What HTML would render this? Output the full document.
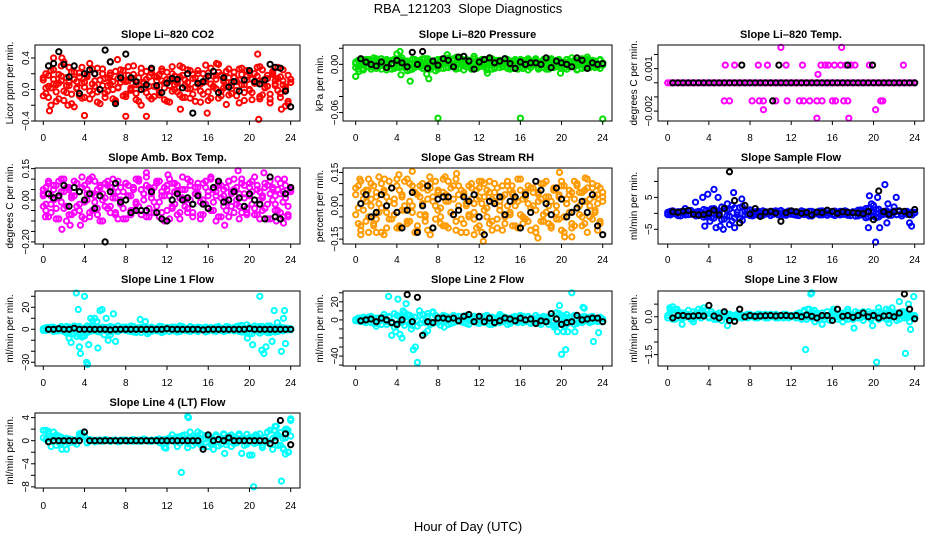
<!DOCTYPE html>
<html><head><meta charset="utf-8">
<style>
html,body{margin:0;padding:0;background:#fff;width:936px;height:540px;overflow:hidden}
svg{display:block;font-family:"Liberation Sans",Arial,sans-serif}
</style></head>
<body>
<svg id="chart" width="936" height="540" viewBox="0 0 936 540" xmlns="http://www.w3.org/2000/svg">
<text x="468" y="13" text-anchor="middle" font-size="13" xml:space="preserve">RBA_121203  Slope Diagnostics</text>
<text x="468" y="531" text-anchor="middle" font-size="13">Hour of Day (UTC)</text>
</svg>
<script>
const hours = [0,0.25,0.5,0.75,1,1.25,1.5,1.75,2,2.25,2.5,2.75,3,3.25,3.5,3.75,4,4.25,4.5,4.75,5,5.25,5.5,5.75,6,6.25,6.5,6.75,7,7.25,7.5,7.75,8,8.25,8.5,8.75,9,9.25,9.5,9.75,10,10.25,10.5,10.75,11,11.25,11.5,11.75,12,12.25,12.5,12.75,13,13.25,13.5,13.75,14,14.25,14.5,14.75,15,15.25,15.5,15.75,16,16.25,16.5,16.75,17,17.25,17.5,17.75,18,18.25,18.5,18.75,19,19.25,19.5,19.75,20,20.25,20.5,20.75,21,21.25,21.5,21.75,22,22.25,22.5,22.75,23,23.25,23.5,23.75,24];
const hoursB = [0.5,1,1.5,2,2.5,3,3.5,4,4.5,5,5.5,6,6.5,7,7.5,8,8.5,9,9.5,10,10.5,11,11.5,12,12.5,13,13.5,14,14.5,15,15.5,16,16.5,17,17.5,18,18.5,19,19.5,20,20.5,21,21.5,22,22.5,23,23.5,24];
const xTicks = [0,4,8,12,16,20,24];

const co2A = [0.12,-0.05,0.18,0.02,0.25,-0.15,0.08,0.30,-0.02,0.15,0.05,-0.18,0.22,0.10,-0.08,0.28,0.03,0.16,-0.12,0.07,0.20,-0.03,0.12,0.26,-0.10,0.05,0.18,0.00,-0.16,0.14,0.09,0.24,-0.06,0.11,0.02,0.19,-0.13,0.06,0.27,0.01,0.13,-0.09,0.21,0.04,0.16,-0.04,0.23,0.08,-0.15,0.12,0.29,0.00,0.10,-0.07,0.18,0.05,0.25,-0.11,0.14,0.03,0.20,-0.02,0.09,0.31,-0.14,0.07,0.17,0.01,0.22,-0.08,0.12,0.04,0.26,-0.05,0.15,0.10,-0.17,0.19,0.06,0.24,-0.01,0.13,0.08,0.28,-0.12,0.11,0.02,0.18,-0.06,0.21,0.07,0.14,-0.10,0.25,0.03,-0.18,0.09];
const co2B = [-0.08,0.20,0.04,-0.20,0.13,0.06,-0.12,0.17,0.35,-0.04,0.09,0.22,-0.22,0.02,0.16,0.08,-0.10,0.19,0.33,-0.06,0.11,0.27,-0.18,0.05,0.14,-0.02,0.21,0.10,-0.14,0.03,0.25,0.12,-0.09,0.18,0.00,0.30,-0.05,0.15,-0.20,0.08,0.23,0.04,-0.12,0.17,0.11,-0.07,0.26,0.02,0.13,-0.16,0.20,0.06,-0.03,0.16,0.28,-0.10,0.09,0.01,0.19,-0.15,0.24,0.07,-0.06,0.14,0.21,-0.11,0.03,0.18,0.32,-0.02,0.10,-0.19,0.15,0.05,0.22,-0.08,0.12,0.27,-0.04,0.17,0.00,-0.13,0.20,0.08,0.29,-0.07,0.13,0.04,-0.17,0.23,0.11,-0.01,0.16,0.06,-0.21,0.18,0.09];
const co2C = [0.15,0.02,-0.10,0.24,0.07,-0.03,0.19,0.11,-0.14,0.05,0.28,-0.06,0.13,0.01,0.21,-0.11,0.09,0.17,-0.02,0.26,0.04,-0.16,0.12,0.20,-0.05,0.15,0.07,-0.12,0.23,0.02,0.18,-0.08,0.10,0.29,-0.01,0.14,0.06,-0.15,0.21,0.09,-0.04,0.16,0.25,-0.09,0.03,0.19,0.11,-0.13,0.22,0.05,-0.02,0.17,0.08,0.30,-0.10,0.12,0.01,0.24,-0.06,0.15,0.07,-0.16,0.20,0.10,-0.03,0.27,0.04,0.13,-0.11,0.18,0.02,0.23,-0.07,0.09,0.16,-0.01,0.26,0.06,-0.14,0.12,0.21,-0.04,0.08,0.17,-0.09,0.25,0.03,0.14,-0.12,0.19,0.05,0.28,-0.05,0.11,0.00,-0.15,0.13];
const co2Extra = [[0.6,-0.27],[4,-0.33],[7.2,0.38],[8,-0.34],[10,-0.34],[20.8,0.45],[20.9,-0.38],[1,0.40],[1.8,0.40],[15.9,-0.30],[13.3,-0.25],[23.1,-0.25],[2.4,-0.2],[6.5,0.35],[16.8,0.33]];
const co2Black = [0.30,0.33,0.48,0.32,0.16,0.30,-0.05,0.20,0.25,0.20,0.00,0.50,0.35,-0.18,0.15,0.45,0.15,0.10,0.00,0.06,0.27,0.05,-0.04,0.08,0.14,0.13,0.02,0.20,-0.30,0.08,0.10,0.17,0.23,-0.04,0.15,0.03,0.10,-0.02,0.12,0.24,0.10,0.07,0.12,0.32,0.28,0.27,-0.02,-0.22];

const presA = [0.003,-0.002,0.006,-0.005,0.001,0.004,-0.006,0.002,0.007,-0.003,0.000,0.005,-0.007,0.003,-0.001,0.006,0.002,-0.004,0.008,-0.002,0.004,0.001,-0.006,0.005,0.003,-0.003,0.007,0.000,-0.005,0.004,0.002,-0.008,0.006,-0.001,0.003,0.005,-0.004,0.001,0.007,-0.006,0.002,0.004,-0.002,0.006,0.000,-0.005,0.003,0.005,-0.003,0.001,0.006,-0.007,0.004,0.002,-0.004,0.005,0.001,-0.002,0.007,-0.005,0.003,0.000,0.004,-0.006,0.006,0.002,-0.003,0.005,-0.001,0.003,0.007,-0.004,0.001,0.004,-0.006,0.006,0.002,-0.002,0.005,0.000,-0.005,0.003,0.006,-0.003,0.002,0.004,-0.007,0.005,0.001,-0.004,0.006,0.003,-0.002,0.004,0.000,-0.005,0.002];
const presB = [-0.004,0.005,0.001,-0.007,0.006,0.002,-0.003,0.008,-0.001,0.004,-0.006,0.003,0.006,-0.002,0.005,-0.005,0.001,0.007,-0.003,0.004,-0.008,0.002,0.006,-0.004,0.000,0.005,-0.002,0.007,0.003,-0.006,0.004,0.001,-0.003,0.006,-0.005,0.002,0.008,-0.001,0.004,-0.004,0.006,0.000,-0.007,0.003,0.005,-0.002,0.007,-0.005,0.001,0.004,-0.003,0.006,0.002,-0.006,0.005,0.000,-0.004,0.003,0.007,-0.002,0.004,-0.005,0.006,0.001,-0.003,0.005,0.002,-0.007,0.004,-0.001,0.006,0.003,-0.004,0.005,0.000,-0.006,0.007,0.002,-0.003,0.004,0.001,-0.005,0.006,-0.002,0.003,0.005,-0.006,0.002,0.007,-0.001,0.004,-0.004,0.005,0.001,-0.003,0.006,0.002];
const presC = [0.001,-0.006,0.004,0.002,-0.003,0.006,-0.001,0.005,-0.005,0.003,0.007,-0.002,0.000,0.004,-0.006,0.006,-0.003,0.002,0.005,-0.004,0.003,-0.007,0.001,0.006,-0.002,0.004,-0.005,0.002,0.007,-0.003,0.000,0.005,-0.006,0.003,0.001,-0.004,0.006,-0.002,0.004,0.000,-0.005,0.007,0.002,-0.003,0.005,-0.006,0.001,0.004,-0.002,0.006,0.000,-0.004,0.003,0.007,-0.005,0.002,0.005,-0.003,0.001,0.006,-0.006,0.004,0.000,-0.002,0.005,-0.005,0.003,0.007,-0.004,0.001,0.004,-0.006,0.002,0.006,-0.003,0.000,0.005,-0.004,0.003,0.006,-0.002,0.001,-0.006,0.004,0.002,-0.003,0.005,0.000,-0.005,0.006,0.003,-0.002,0.004,-0.004,0.001,0.005,-0.001];
const presExtra = [[0,-0.015],[0.3,-0.009],[4.3,0.016],[4.4,-0.013],[5.3,-0.021],[6.9,-0.012],[7.1,-0.018],[8,-0.067],[16,-0.067],[24,-0.068],[8.9,0.012],[11.5,0.010],[12.8,-0.011],[19.9,-0.011],[13,0.008],[4,0.013],[9.8,0.009],[21,0.008],[22.5,0.009]];
const presBlack = [0.007,0.003,0.000,-0.002,0.003,-0.004,0.001,0.005,0.002,-0.003,0.015,0.000,0.016,-0.005,0.004,-0.001,0.007,0.005,-0.003,0.009,0.010,0.004,-0.006,0.003,0.006,0.008,0.002,0.004,0.007,0.001,-0.005,0.003,0.000,0.002,0.002,0.000,0.008,-0.004,0.004,0.002,0.000,-0.003,0.008,0.005,-0.005,0.002,0.000,0.001];

const tempA = [0,0,0,0,0,0,0,0,0,0,0,0,0,0,0,0,0,0,0,0,0,0,0,0,0,0,0,0,0,0,0,0,0,0,0,0,0,0,0,0,0,0,0,0,0,0,0,0,0,0,0,0,0,0,0,0,0,0,0,0,0,0,0,0,0,0,0,0,0,0,0,0,0,0,0,0,0,0,0,0,0,0,0,0,0,0,0,0,0,0,0,0,0,0,0,0,0];
const tempExtra = [[5.6,0.00125],[6.5,0.00125],[8.8,0.00125],[9.7,0.00125],[11.5,0.00125],[13.1,0.00125],[14.9,0.00125],[15.3,0.00125],[15.6,0.00125],[16.2,0.00125],[16.8,0.00125],[17.3,0.00125],[17.8,0.00125],[18.2,0.00125],[19.6,0.00125],[22.9,0.00125],[11,0.0025],[16.9,0.0025],[14.6,0.0006],[5.5,-0.00128],[6,-0.00128],[8.2,-0.00128],[8.9,-0.00128],[9.3,-0.00128],[10.5,-0.00128],[11.6,-0.00128],[12.8,-0.00128],[13.2,-0.00128],[13.8,-0.00128],[14.5,-0.00128],[15,-0.00128],[16,-0.00128],[16.3,-0.00128],[17.1,-0.00128],[17.5,-0.00128],[20.7,-0.00128],[20.9,-0.00128],[9.3,-0.0019],[20.2,-0.0019],[14.5,-0.0025],[17.6,-0.0025]];
const tempBlack = [0,0,0,0,0,0,0,0,0,0,0,0,0,0,0,0,0,0,0,0,0,0,0,0,0,0,0,0,0,0,0,0,0,0,0,0,0,0,0,0,0,0,0,0,0,0,0,0];
const tempBlackExtra = [[7.2,0.00125],[10.8,0.00125],[17.5,0.00125],[19.9,0.00125],[10.2,-0.00128]];

const ambA = [0.03,-0.05,0.08,-0.02,0.05,-0.09,0.01,0.10,-0.04,0.06,-0.07,0.02,0.09,-0.03,0.04,-0.08,0.07,0.00,-0.06,0.11,-0.01,0.05,-0.10,0.03,0.08,-0.04,0.06,0.01,-0.07,0.09,-0.02,0.04,-0.09,0.07,0.02,-0.05,0.10,-0.03,0.05,0.00,-0.08,0.06,0.03,-0.06,0.09,-0.01,0.04,-0.10,0.07,0.02,-0.04,0.08,-0.07,0.01,0.05,-0.03,0.10,0.00,-0.06,0.06,0.03,-0.09,0.08,-0.02,0.04,0.11,-0.05,0.02,0.07,-0.08,0.05,-0.01,0.09,0.03,-0.06,0.06,-0.03,0.10,0.01,-0.07,0.08,0.04,-0.04,0.07,-0.09,0.02,0.06,-0.02,0.09,0.00,-0.05,0.05,0.03,-0.08,0.07,-0.03,0.04];
const ambB = [-0.03,0.06,-0.08,0.02,0.07,-0.04,0.09,-0.01,0.04,-0.10,0.05,0.01,-0.06,0.08,-0.02,0.06,-0.09,0.03,0.10,-0.05,0.02,-0.07,0.07,0.00,-0.03,0.09,-0.06,0.04,0.01,-0.09,0.06,-0.04,0.08,0.02,-0.07,0.05,-0.01,0.10,-0.05,0.03,0.07,-0.08,0.01,0.06,-0.03,0.09,-0.06,0.02,0.05,-0.09,0.08,-0.02,0.04,-0.06,0.11,0.00,-0.04,0.07,-0.08,0.03,0.06,-0.01,-0.07,0.09,0.02,-0.05,0.05,-0.10,0.08,0.01,-0.03,0.06,-0.08,0.04,0.10,-0.02,0.03,-0.06,0.07,-0.04,0.02,0.09,-0.07,0.05,0.00,-0.05,0.08,-0.09,0.03,0.06,-0.02,0.10,-0.06,0.04,0.01,-0.08,0.05];
const ambC = [0.05,-0.02,0.09,-0.06,0.00,0.07,-0.09,0.04,0.10,-0.03,0.06,-0.07,0.02,0.08,-0.05,0.11,-0.01,0.05,-0.08,0.03,0.09,-0.04,0.06,-0.10,0.01,0.07,-0.03,0.10,-0.06,0.04,0.00,-0.09,0.08,0.02,-0.05,0.06,-0.02,0.09,-0.07,0.03,0.11,-0.04,0.05,-0.01,0.08,-0.08,0.02,0.06,-0.05,0.10,-0.03,0.04,0.07,-0.09,0.01,0.05,-0.06,0.09,-0.02,0.03,0.08,-0.07,0.00,0.06,-0.04,0.10,-0.01,0.04,-0.08,0.07,0.02,-0.05,0.09,-0.03,0.05,0.00,-0.09,0.08,0.03,-0.06,0.06,-0.02,0.11,-0.07,0.04,0.01,-0.04,0.07,-0.09,0.05,0.02,-0.05,0.08,-0.01,0.03,-0.07,0.06];
const ambExtra = [[1.8,-0.14],[2.6,-0.12],[3.6,-0.12],[14.9,-0.225],[10,0.13],[12.1,0.12],[18.9,0.14],[21.4,0.13],[23.4,0.10],[4.4,0.09],[0,0.02],[0.2,-0.08],[6.6,0.06],[17.6,-0.12],[23.3,-0.11],[22.6,-0.10]];
const ambBlack = [0.03,0.01,0.02,0.07,-0.03,0.06,0.04,0.00,0.03,-0.04,0.02,-0.20,0.04,0.08,-0.01,0.00,-0.06,-0.05,-0.05,-0.05,0.04,-0.06,-0.09,-0.10,0.00,0.03,0.00,0.01,-0.02,0.02,-0.02,-0.04,0.06,0.09,-0.01,0.00,0.04,0.01,-0.03,0.03,0.00,-0.02,-0.09,0.11,-0.08,-0.09,0.03,0.06];

const rhA = [0.05,-0.08,0.11,-0.02,0.07,-0.12,0.03,0.09,-0.06,0.13,-0.01,0.06,-0.10,0.02,0.08,-0.04,0.12,-0.09,0.04,0.00,-0.07,0.10,-0.03,0.06,-0.11,0.09,0.01,-0.05,0.07,-0.13,0.04,0.11,-0.02,-0.08,0.06,0.02,-0.10,0.08,-0.04,0.12,0.00,-0.06,0.05,-0.12,0.09,0.03,-0.03,0.07,-0.09,0.01,0.10,-0.05,0.06,-0.11,0.02,0.08,-0.02,0.04,-0.08,0.11,-0.04,0.05,0.00,-0.10,0.07,0.03,-0.06,0.09,-0.01,0.06,-0.12,0.02,0.10,-0.07,0.04,0.00,-0.09,0.08,-0.03,0.05,0.11,-0.05,0.01,0.07,-0.10,0.03,0.09,-0.04,0.06,-0.08,0.12,0.00,-0.06,0.04,-0.11,0.08,0.02];
const rhB = [-0.04,0.09,-0.11,0.03,-0.07,0.12,0.00,-0.09,0.06,-0.03,0.10,-0.13,0.04,-0.06,0.08,0.01,-0.10,0.07,-0.02,0.11,-0.08,0.02,0.09,-0.12,0.05,-0.04,0.10,-0.07,0.03,0.08,-0.10,0.00,0.06,-0.05,0.12,-0.09,0.02,-0.03,0.09,-0.11,0.05,0.07,-0.08,0.01,-0.04,0.10,-0.06,0.03,0.08,-0.12,0.04,-0.01,0.11,-0.07,0.06,-0.10,0.02,0.09,-0.05,0.00,0.07,-0.09,0.03,0.12,-0.04,-0.08,0.06,0.01,-0.11,0.08,-0.02,0.05,-0.07,0.10,-0.03,0.04,-0.10,0.07,0.00,-0.06,0.09,-0.12,0.03,0.05,-0.08,0.11,-0.01,0.06,-0.09,0.02,0.08,-0.05,0.10,-0.03,0.01,-0.07,0.06];
const rhC = [0.08,-0.01,-0.09,0.06,0.02,-0.05,0.10,-0.08,0.04,0.01,-0.12,0.07,-0.03,0.11,-0.06,0.03,0.09,-0.10,0.05,-0.02,0.12,-0.07,0.00,0.06,-0.09,0.04,0.08,-0.04,-0.11,0.10,0.02,-0.06,0.07,-0.01,-0.09,0.05,0.11,-0.03,0.03,-0.07,0.09,-0.12,0.06,0.00,-0.05,0.08,0.01,-0.10,0.04,0.11,-0.02,0.07,-0.08,0.03,0.10,-0.06,0.00,-0.11,0.05,0.09,-0.03,0.06,-0.09,0.02,0.12,-0.05,0.04,-0.07,0.08,0.00,-0.10,0.06,0.03,-0.04,0.11,-0.08,0.02,0.07,-0.06,0.04,-0.11,0.09,0.01,-0.03,0.06,-0.09,0.10,0.00,-0.05,0.07,-0.12,0.03,0.08,-0.02,0.05,-0.08,0.04];
const rhExtra = [[0.4,0.12],[0.5,-0.13],[2,-0.12],[2.8,0.12],[4.2,0.14],[5.5,0.155],[7.2,0.13],[8.7,0.13],[9.8,0.145],[12.4,-0.16],[11.5,-0.13],[17.7,-0.145],[19.8,0.15],[20.3,-0.14],[21,-0.14],[22.3,0.125],[12,0.11],[15.2,0.09],[1.2,0.07],[23.5,0.09]];
const rhBlack = [0.01,0.05,-0.05,-0.03,0.05,0.00,0.08,-0.03,-0.10,-0.02,0.06,-0.12,0.00,0.09,-0.10,0.03,0.04,0.04,-0.04,-0.02,0.04,0.02,0.05,-0.05,-0.13,0.02,0.01,0.04,-0.04,0.02,0.04,-0.10,0.05,-0.03,0.11,0.07,0.01,-0.04,0.08,0.03,-0.05,-0.03,-0.01,0.02,-0.03,0.05,-0.09,-0.13];

const sfA = [0.3,-0.5,0.8,-0.2,0.5,-0.8,0.1,0.6,-0.4,0.9,-0.1,0.4,-0.7,0.2,1.2,-1.0,0.7,-1.3,1.5,-0.6,0.3,2.0,-1.8,1.0,-0.9,2.5,-1.5,0.4,1.8,-2.2,0.6,-0.3,1.1,-0.8,0.5,0.0,-0.6,0.8,-0.2,0.4,-0.7,0.6,0.1,-0.4,0.9,-0.5,0.3,0.7,-0.3,0.5,-0.6,0.2,0.8,-0.4,0.1,0.6,-0.8,0.3,-0.1,0.7,-0.5,0.4,0.9,-0.2,0.5,-0.7,0.2,0.6,-0.3,0.8,-0.6,0.1,0.4,-0.9,1.0,-0.4,0.7,-1.4,1.6,-0.8,0.3,1.2,-1.1,0.5,-0.3,0.8,-0.6,0.2,0.7,-0.4,0.5,-0.8,0.3,0.6,-0.2,0.4,0.1];
const sfB = [-0.4,0.6,-0.1,0.3,-0.7,0.5,0.0,-0.5,0.8,-0.3,0.2,-0.8,0.6,-0.2,-1.2,1.0,-0.6,1.4,-1.5,0.8,-0.3,-2.0,1.6,-0.8,1.3,-2.4,1.7,-0.5,-1.6,2.1,-0.4,0.9,-0.7,0.3,-0.5,0.7,0.2,-0.6,0.5,-0.1,0.6,-0.3,0.8,-0.5,0.1,0.4,-0.6,-0.2,0.7,-0.4,0.3,-0.7,0.0,0.5,-0.3,-0.8,0.6,-0.2,0.4,-0.5,0.8,-0.1,-0.6,0.3,-0.4,0.7,-0.2,-0.5,0.6,-0.3,0.4,-0.7,0.5,0.2,-0.8,1.1,-0.6,1.5,-1.2,0.7,-0.9,-1.4,1.3,-0.5,0.6,-0.2,0.4,-0.6,0.3,-0.4,0.7,-0.1,0.5,-0.3,0.2,-0.5,0.3];
const sfExtra = [[2.7,3.5],[3.4,5.0],[3.6,-4.0],[3.9,6.0],[4.5,7.5],[4.7,-4.5],[4.9,5.0],[5.1,-4.0],[5.4,-5.0],[5.8,3.0],[6.4,6.5],[6.5,-4.5],[7.2,4.5],[6.0,-3.5],[19.5,-4.5],[19.6,5.5],[19.8,3.0],[20.2,-9.0],[20.4,5.0],[20.6,-4.5],[21.1,9.0],[21.3,-3.0],[21.4,3.0],[22.2,5.0],[23.7,-4.0],[23.5,-3],[20,2.5],[4.1,-2.5],[1.7,1.5],[22,2]];
const sfBlack = [0.5,0.3,0.7,0.9,-0.3,-0.5,-0.4,0.0,1.0,-0.5,1.5,13.0,4.0,-3.0,2.5,-0.2,1.5,-1.0,0.4,0.6,0.1,-2.5,0.2,0.8,0.5,0.0,0.3,-0.5,0.4,0.2,1.0,0.6,0.0,0.5,0.3,0.2,0.1,-0.1,0.6,-2.0,7.0,0.5,-0.3,0.5,0.8,0.6,-0.4,1.2];

const l1A = [0.5,-1.0,1.5,-0.5,2.0,-1.5,0.0,1.0,-2.0,2.5,-3.0,1.0,-4.0,2.0,-5.0,0.5,-6.0,3.0,-2.0,1.5,-1.0,2.0,-2.5,0.0,1.5,-1.5,2.5,-1.0,0.5,-2.0,1.0,-0.5,2.0,-1.5,3.0,-2.5,0.5,1.5,-3.0,2.0,-1.0,0.5,-2.0,1.0,-1.5,2.5,-3.0,0.0,1.5,-2.0,-1.0,2.0,-2.5,3.0,-0.5,1.0,-1.5,2.5,-1.0,0.5,-2.0,1.5,-0.5,2.0,-1.5,0.0,1.0,-2.0,2.5,-1.0,0.5,-1.5,2.0,-0.5,1.5,-1.0,3.0,-2.5,1.0,-3.0,2.0,-4.0,0.5,-1.5,2.5,-2.0,1.0,-3.0,3.0,-1.0,0.5,-2.0,2.0,-1.5,1.0,-0.5,0.5];
const l1B = [-1.0,1.5,-0.5,2.0,-2.0,1.0,-1.5,2.5,-0.5,-3.5,2.0,-4.5,3.0,-6.5,2.5,-7.0,1.0,-3.0,2.5,-1.5,1.0,-2.0,0.5,2.0,-1.0,1.5,-2.5,2.0,-1.5,3.0,-0.5,2.0,-1.0,1.0,-2.0,2.5,-3.0,-1.0,2.0,-0.5,1.5,-2.5,2.0,-0.5,1.0,-1.5,2.5,-2.0,0.5,1.5,2.0,-1.5,1.0,-2.0,2.5,-1.0,0.5,-2.0,1.5,-1.0,2.0,-0.5,1.0,-2.5,0.5,1.5,-1.5,2.0,-0.5,1.0,-2.0,2.5,-1.0,0.0,-1.5,2.5,-2.0,3.5,-2.5,4.0,-4.0,1.0,-1.0,2.0,-3.5,2.5,-1.0,3.0,-2.0,1.5,-2.5,2.0,-1.0,1.5,-0.5,1.0,-0.5];
const l1Extra = [[2.5,-8],[2.7,-12],[3.2,33],[3.4,18],[3.5,-16],[3.6,-22],[3.8,-6],[4.0,30],[4.2,-30],[4.3,-32],[4.4,-14],[4.6,10],[4.8,8],[5.0,10],[5.2,7],[5.3,-17],[5.5,17],[5.7,18],[5.9,-5],[6.1,10],[6.3,-10],[6.5,-5],[6.8,14],[7.0,-11],[9.4,9],[9.9,7],[10.1,-4],[19.8,-8],[20.3,-14],[21.0,30],[21.2,-19],[21.4,-22],[21.6,-16],[22.0,-3],[22.2,-11],[22.4,17],[22.7,6],[23.1,-20],[23.3,10],[23.4,17],[23.5,-13],[20.5,3]];
const l1Black = [0,0,0.5,0,0,1,0,0,0,0,0,0,-0.5,0,0,0,0,0,0,0,0,0,0,0.5,0,0,0,0,0,0,-0.5,0,0,0,0,0,0,0,0,0.5,0,0,0,0,0,0,0,0];

const l2A = [0.5,-1,2,-2,1,3,-3,1,-4,2,0,3,-5,4,-2,-8,5,-3,2,-6,6,-4,1,3,-7,5,0,-2,4,-5,8,-3,2,-6,5,-1,3,-4,2,-2,4,1,-3,5,-5,2,-1,3,-4,1,4,-2,3,-5,2,0,-3,4,-1,2,-4,3,1,-2,5,-3,0,4,-4,2,-1,3,-5,4,0,-2,3,-6,8,-4,5,-7,6,-3,2,-5,4,-2,3,-1,2,-3,4,0,-2,3,1];
const l2B = [-1,2,-2,3,-3,1,4,-4,2,-2,-5,6,-2,3,-4,7,-6,4,-3,8,-2,5,-6,3,-1,-4,6,-3,7,-2,-4,5,-3,3,-2,4,-5,1,-3,3,-1,-2,4,-4,3,-1,4,-3,2,-2,-3,5,-1,3,-4,2,4,-2,3,-5,1,-2,4,-3,-1,4,-2,3,-3,-2,5,-4,2,-1,3,-5,4,-2,-6,7,-3,4,-5,3,-2,5,-4,2,-3,4,-1,3,-2,1,-1,2,-2];
const l2Extra = [[2,-7],[2.5,-5],[3.2,26],[3.5,-17],[3.9,-13],[4.1,23],[4.3,-16],[4.5,-20],[4.6,10],[4.9,18],[5.1,5],[5.4,-10],[5.6,-33],[5.8,-30],[6.0,-47],[6.2,10],[6.7,-15],[7.0,-12],[7.5,9],[8.6,-8],[19.3,-8],[19.6,-13],[19.8,16],[20.0,-38],[20.2,-13],[20.4,-33],[20.6,-13],[21.0,30],[21.3,-13],[22.2,13],[22.1,14],[23.1,-24],[23.6,-14],[9.5,5],[13,-5],[14,6]];
const l2Black = [-1,0,1,-2,2,0,-3,-5,0,28,-2,25,-17,-2,-3,2,2,1,2,-1,4,6,-2,4,-2,2,-3,-1,2,1,-1,2,0,1,-4,-1,-2,7,1,-5,-3,-2,5,0,1,2,2,-2];

const l3A = [0.05,0.2,-0.1,0.3,0.1,-0.05,0.15,0.0,0.1,-0.1,0.2,0.05,0.3,-0.05,0.35,0.1,0.0,0.2,-0.1,0.1,0.05,-0.15,0.15,0.0,0.1,-0.05,0.05,0.1,0.0,-0.05,0.05,0.1,0.0,0.05,-0.05,0.1,0.0,0.05,0.1,-0.05,0.05,0.0,0.1,-0.05,0.05,0.1,0.0,-0.05,0.05,0.0,0.1,0.05,-0.1,0.2,0.0,0.3,-0.05,0.25,0.1,-0.1,0.15,0.0,0.05,-0.15,0.2,0.0,0.1,-0.05,0.15,0.05,-0.1,0.1,0.0,0.2,-0.05,0.1,-0.15,0.05,0.2,-0.05,0.1,0.0,-0.1,0.15,0.05,0.3,-0.1,0.1,0.0,0.15,-0.1,0.2,0.05,-0.05,0.1,0.0,0.05];
const l3B = [-0.05,0.3,0.1,-0.1,0.2,0.15,-0.05,0.1,0.25,0.05,-0.1,0.15,0.0,0.2,0.1,0.25,-0.05,0.1,0.05,-0.1,0.15,0.05,0.0,0.1,-0.05,0.05,0.0,-0.05,0.1,0.05,0.0,-0.05,0.1,0.0,0.05,-0.05,0.1,0.0,-0.05,0.05,0.1,0.0,-0.05,0.05,0.0,-0.05,0.1,0.05,0.0,0.05,-0.05,0.15,0.05,0.25,-0.1,0.1,0.2,-0.05,0.15,0.05,0.0,-0.1,0.2,0.05,0.0,0.15,-0.1,0.05,0.1,-0.05,0.2,0.0,-0.1,0.05,0.15,-0.05,0.2,0.0,0.1,-0.1,0.15,0.05,0.2,-0.05,0.1,-0.1,0.25,0.0,0.1,-0.15,0.05,0.15,-0.05,0.1,0.0,0.05,-0.05];
const l3Extra = [[0.2,0.35],[0.5,0.4],[0.9,0.3],[1.4,-0.3],[2.5,-0.2],[3.3,0.25],[5.8,-0.35],[13.4,-1.3],[13.6,0.3],[13.9,0.9],[14.0,0.95],[14.3,-0.2],[15.0,-0.3],[16.1,0.3],[17.0,-0.2],[18.1,-0.45],[19.9,-0.35],[20.3,-1.8],[20.5,0.35],[21.5,-0.25],[21.8,0.35],[22.5,0.6],[22.9,0.2],[23.1,-1.45],[23.4,0.5],[23.5,-0.2],[23.6,-0.5],[23.9,0.8],[17.5,0.3],[12.7,0.05]];
const l3Black = [-0.05,0.05,0.05,0.02,0.03,0.05,0.03,0.45,0.03,-0.05,0.2,-0.15,-0.18,0.3,0.0,0.05,0.02,0.03,0.04,0.05,0.03,0.05,0.05,0.03,0.05,0.0,0.07,0.02,-0.05,0.05,0.05,-0.15,0.3,0.02,0.05,-0.02,0.05,0.15,0.0,0.05,-0.05,0.03,0.05,0.0,0.15,0.9,0.3,-0.08];

const l4A = [0.5,1.8,1.2,0.3,1.5,-0.8,0.8,-0.5,0.2,-1.5,0.3,0.0,-0.3,0.2,0.8,1.0,1.5,-0.4,0.2,0.0,-0.2,0.1,0.0,-0.1,0.2,0.0,-0.1,0.1,0.0,-0.2,0.1,0.0,0.1,-0.1,0.0,0.2,0.0,-0.1,0.1,0.3,0.0,-0.1,0.1,0.0,0.2,-0.3,0.1,-1.2,0.3,0.5,0.0,-0.2,0.6,-0.4,0.9,0.3,-1.2,1.5,-0.8,0.5,-0.3,1.2,-1.0,0.3,0.8,-0.6,0.2,1.0,-0.9,0.5,0.0,-0.7,0.8,1.0,-0.5,0.3,1.2,-2.2,0.4,-0.6,0.6,-2.5,0.8,-0.3,1.2,-0.8,0.5,-0.2,1.8,-1.5,0.6,1.0,-0.8,0.4,2.0,-2.0,3.5];
const l4B = [1.8,0.2,1.6,-1.0,0.5,1.0,-0.3,0.6,-0.2,0.4,-0.4,0.2,0.0,-0.6,1.2,0.6,0.8,-0.3,0.0,0.1,0.0,-0.1,0.1,0.0,0.0,0.1,-0.1,0.0,0.1,0.0,-0.1,0.1,0.0,0.0,0.1,-0.1,0.0,0.1,-0.1,0.0,0.1,0.0,-0.1,0.0,0.1,0.3,-0.5,0.2,-0.3,0.2,1.0,0.4,-1.0,0.7,0.2,1.0,-0.5,0.5,0.8,-0.4,0.7,-0.7,0.2,0.9,-1.0,0.5,-0.3,0.7,0.2,-0.6,1.0,-0.2,0.3,-1.0,0.7,-0.4,0.9,0.2,-0.8,1.1,-0.2,0.5,-0.5,0.8,0.2,-1.2,0.6,1.5,-0.6,0.4,2.5,-0.8,1.4,-1.3,0.5,1.8,0.8];
const l4Extra = [[1.8,-1.5],[3.6,1.0],[3.7,1.3],[11.9,-1.3],[13.4,-5.5],[14.0,4.2],[14.1,4.0],[15.0,1.5],[16.5,-1.5],[17.5,1.2],[17.6,-2.2],[20,-2.5],[20.4,-8.0],[20.6,1.0],[22.4,1.8],[22.6,2.5],[23.1,-7.0],[23.3,-1.5],[23.5,-2.3],[23.6,2.0],[24.0,3.8],[23.8,-2.0]];
const l4Black = [-0.2,0,0,0,0,0,0,1.5,0,0,0,0,0,0,0,0,0,0,0,0,0,0,0,0,0,0,0,0,0,0,-1.5,1.0,0,0.2,0,0.5,0,0,0,0,0,0,0,-0.5,0,3.5,1.2,-0.7];

const NS = 'http://www.w3.org/2000/svg';
const svg = document.getElementById('chart');
function mk(tag, attrs, parent){const e=document.createElementNS(NS,tag);for(const k in attrs)e.setAttribute(k,attrs[k]);(parent||svg).appendChild(e);return e;}

const cols = [{l:35,r:300,x0:43.3,x24:290.7,lab:25,tt:9},{l:343,r:612,x0:355.7,x24:602.7,lab:334,tt:319},{l:658,r:924,x0:667.7,x24:914.7,lab:648,tt:633}];
const rows = [{t:45,b:121,title:34,xl:137},{t:168,b:244,title:157,xl:259},{t:291,b:366,title:279,xl:382},{t:413,b:488,title:402,xl:505}];

const panels = [
 {name:'co2',title:'Slope Li\u2013820 CO2',ylab:'Licor ppm per min.',c:0,r:0,ymin:-0.40,ymax:0.565,ticks:[-0.4,-0.2,0,0.2,0.4],labels:{'0.4':'0.4','0':'0.0','-0.4':'\u22120.4'},color:'#ff0000',main:[co2A,co2B,co2C],extra:co2Extra,black:co2Black},
 {name:'pressure',title:'Slope Li\u2013820 Pressure',ylab:'kPa per min.',c:1,r:0,ymin:-0.0705,ymax:0.0241,ticks:[-0.06,-0.04,-0.02,0,0.02],labels:{'0':'0.00','-0.06':'\u22120.06'},color:'#00e000',main:[presA,presB,presC],extra:presExtra,black:presBlack},
 {name:'temp',title:'Slope Li\u2013820 Temp.',ylab:'degrees C per min.',c:2,r:0,ymin:-0.0027,ymax:0.00267,ticks:[-0.002,-0.001,0,0.001,0.002],labels:{'0.001':'0.001','-0.002':'\u22120.002'},color:'#ff00ff',main:[tempA],extra:tempExtra,black:tempBlack,blackExtra:tempBlackExtra},
 {name:'amb-box-temp',title:'Slope Amb. Box Temp.',ylab:'degrees C per min.',c:0,r:1,ymin:-0.21,ymax:0.153,ticks:[-0.2,-0.15,-0.1,-0.05,0,0.05,0.1,0.15],labels:{'0.15':'0.15','0':'0.00','-0.2':'\u22120.20'},color:'#ff00ff',main:[ambA,ambB,ambC],extra:ambExtra,black:ambBlack},
 {name:'gas-stream-rh',title:'Slope Gas Stream RH',ylab:'percent per min.',c:1,r:1,ymin:-0.172,ymax:0.17,ticks:[-0.15,-0.1,-0.05,0,0.05,0.1,0.15],labels:{'0.15':'0.15','0':'0.00','-0.15':'\u22120.15'},color:'#ff9a00',main:[rhA,rhB,rhC],extra:rhExtra,black:rhBlack},
 {name:'sample-flow',title:'Slope Sample Flow',ylab:'ml/min per min.',c:2,r:1,ymin:-9.6,ymax:14.2,ticks:[-5,0,5,10],labels:{'5':'5','-5':'\u22125'},color:'#0000ff',main:[sfA,sfB],extra:sfExtra,black:sfBlack},
 {name:'line1-flow',title:'Slope Line 1 Flow',ylab:'ml/min per min.',c:0,r:2,ymin:-33.4,ymax:34.8,ticks:[-30,-20,-10,0,10,20,30],labels:{'20':'20','0':'0','-30':'\u221230'},color:'#00ffff',main:[l1A,l1B],extra:l1Extra,black:l1Black},
 {name:'line2-flow',title:'Slope Line 2 Flow',ylab:'ml/min per min.',c:1,r:2,ymin:-51,ymax:32,ticks:[-50,-40,-30,-20,-10,0,10,20,30],labels:{'20':'20','0':'0','-40':'\u221240'},color:'#00ffff',main:[l2A,l2B],extra:l2Extra,black:l2Black},
 {name:'line3-flow',title:'Slope Line 3 Flow',ylab:'ml/min per min.',c:2,r:2,ymin:-1.95,ymax:1.02,ticks:[-1.5,-1,-0.5,0,0.5],labels:{'0':'0.0','-1.5':'\u22121.5'},color:'#00ffff',main:[l3A,l3B],extra:l3Extra,black:l3Black},
 {name:'line4-flow',title:'Slope Line 4 (LT) Flow',ylab:'ml/min per min.',c:0,r:3,ymin:-8.2,ymax:4.8,ticks:[-8,-6,-4,-2,0,2,4],labels:{'4':'4','0':'0','-4':'\u22124','-8':'\u22128'},color:'#00ffff',main:[l4A,l4B],extra:l4Extra,black:l4Black}
];

panels.forEach(p=>{
  const C=cols[p.c], R=rows[p.r];
  const g=mk('g',{});
  
  
  const xs=h=>C.x0+(C.x24-C.x0)*h/24;
  const ys=v=>R.b-(R.b-R.t)*(v-p.ymin)/(p.ymax-p.ymin);
  const t=mk('text',{x:(C.l+C.r)/2,y:R.title+4,'text-anchor':'middle','font-size':11,'font-weight':'bold'},g);
  t.textContent=p.title;
  
  
  const yl=mk('text',{x:0,y:0,transform:`translate(${C.tt+4},${(R.t+R.b)/2}) rotate(-90)`,'text-anchor':'middle','font-size':10},g);
  yl.textContent=p.ylab;
  
  
  const pts=mk('g',{fill:'none',stroke:p.color,'stroke-width':2},g);
  
  
  const dot=(h,v,par)=>{if(v<p.ymin||v>p.ymax)return;const c=mk('circle',{cx:xs(h).toFixed(1),cy:ys(v).toFixed(1),r:2.6},par);};
  p.main.forEach(arr=>{for(let i=0;i<Math.min(arr.length,hours.length);i++)dot(hours[i],arr[i],pts);});
  p.extra.forEach(e=>dot(e[0],e[1],pts));
  const bk=mk('g',{fill:'none',stroke:'#000','stroke-width':2},g);
  
  
  for(let i=0;i<Math.min(p.black.length,hoursB.length);i++)dot(hoursB[i],p.black[i],bk);
  (p.blackExtra||[]).forEach(e=>dot(e[0],e[1],bk));
  const box=mk('rect',{x:C.l,y:R.t,width:C.r-C.l,height:R.b-R.t,fill:'none',stroke:'#000','stroke-width':1},g);
  
  
  p.ticks.forEach(v=>{
    const y=ys(v);
    mk('line',{x1:C.l-4,x2:C.l,y1:y,y2:y,stroke:'#000'},g);
    const key=String(v);
    if(p.labels[key]!==undefined){
      const tl=mk('text',{x:0,y:0,transform:`translate(${C.lab+4},${y}) rotate(-90)`,'text-anchor':'middle','font-size':10},g);
      tl.textContent=p.labels[key];
      
      
    }
  });
  xTicks.forEach(h=>{
    const x=xs(h);
    mk('line',{x1:x,x2:x,y1:R.b,y2:R.b+4,stroke:'#000'},g);
    const xl=mk('text',{x:x,y:R.xl+4,'text-anchor':'middle','font-size':10},g);
    xl.textContent=String(h);
    
    
  });
});
</script>
</body></html>
